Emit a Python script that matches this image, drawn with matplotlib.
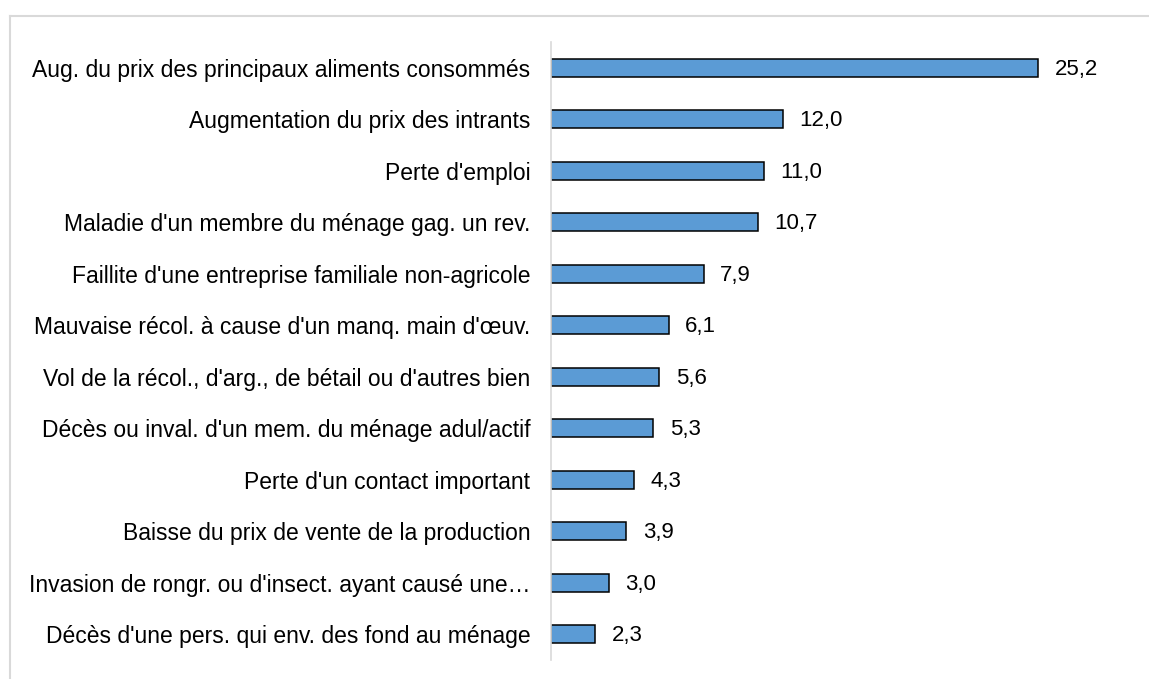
import matplotlib.pyplot as plt
from matplotlib.lines import Line2D

# donnees du graphique
categories = [
    "Aug. du prix des principaux aliments consommés",
    "Augmentation du prix des intrants",
    "Perte d'emploi",
    "Maladie d'un membre du ménage gag. un rev.",
    "Faillite d'une entreprise familiale non-agricole",
    "Mauvaise récol. à cause d'un manq. main d'œuv.",
    "Vol de la récol., d'arg., de bétail ou d'autres bien",
    "Décès ou inval. d'un mem. du ménage adul/actif",
    "Perte d'un contact important",
    "Baisse du prix de vente de la production",
    "Invasion de rongr. ou d'insect. ayant causé une…",
    "Décès d'une pers. qui env. des fond au ménage",
]
valeurs = [25.2, 12.0, 11.0, 10.7, 7.9, 6.1, 5.6, 5.3, 4.3, 3.9, 3.0, 2.3]
etiquettes = ["25,2", "12,0", "11,0", "10,7", "7,9", "6,1", "5,6", "5,3", "4,3", "3,9", "3,0", "2,3"]

plt.rcParams['font.family'] = ['Liberation Sans', 'DejaVu Sans']

fig = plt.figure(figsize=(11.49, 6.79), dpi=100)
ax = fig.add_axes([551/1149, 19/679, 580/1149, 618/679])

pos = list(range(len(valeurs)))
ax.barh(pos, valeurs, height=0.35, color="#5B9BD5", edgecolor="black", linewidth=1.1)
for p, v, t in zip(pos, valeurs, etiquettes):
    ax.text(v + 0.85, p + 0.03, t, va="center", ha="left", fontsize=16)

ax.set_ylim(len(valeurs) - 0.5, -0.5)
ax.set_xlim(0, 30)
ax.set_yticks(pos)
ax.set_yticklabels(categories, fontsize=16.5)
ax.tick_params(axis="y", length=0, pad=15)
ax.set_xticks([])
for s in ["top", "right", "bottom"]:
    ax.spines[s].set_visible(False)
ax.spines["left"].set_color("#d9d9d9")
ax.spines["left"].set_linewidth(1.2)

# cadre gris clair
fig.add_artist(Line2D([10/1149, 1], [1 - 16/679, 1 - 16/679], color="#d9d9d9", lw=1.5, transform=fig.transFigure))
fig.add_artist(Line2D([10/1149, 10/1149], [0, 1 - 16/679], color="#d9d9d9", lw=1.5, transform=fig.transFigure))

fig.savefig("out.png", dpi=100)
